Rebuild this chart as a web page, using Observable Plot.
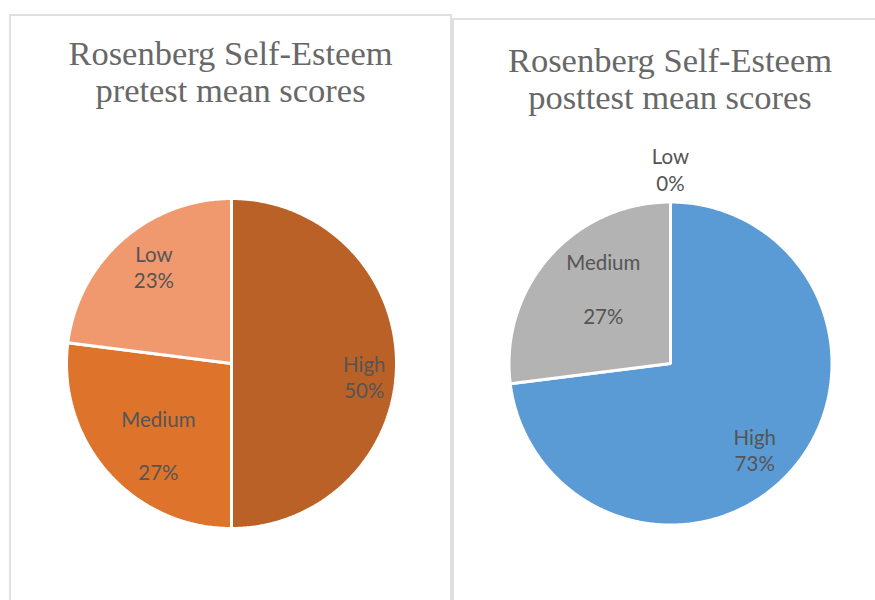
<!DOCTYPE html>
<html><head><meta charset="utf-8">
<script src="https://cdn.jsdelivr.net/npm/d3@7"></script>
<script src="https://cdn.jsdelivr.net/npm/@observablehq/plot@0.6"></script>
<style>
body{margin:0;background:#fff;width:875px;height:600px;overflow:hidden;position:relative;font-family:Lato,sans-serif}
.panel{position:absolute;border:2px solid #e0e0e0;box-sizing:border-box;background:#fff}
.title{position:absolute;left:0;right:0;text-align:center;font-family:"Liberation Serif",serif;font-size:34.5px;line-height:37px;color:#686868;white-space:nowrap}
.pie{position:absolute}
.pie svg{max-width:none;background:transparent}
</style></head><body>
<script>
// ---- data ----
const categories = ["High", "Medium", "Low"];
const pretestValues = [50, 27, 23];
const posttestValues = [73, 27, 0];
const pretestTitle = ["Rosenberg Self-Esteem", "pretest mean scores"];
const posttestTitle = ["Rosenberg Self-Esteem", "posttest mean scores"];
const pretestLabels = ["High\n50%", "Medium\n\n27%", "Low\n23%"];
const posttestLabels = ["High\n73%", "Medium\n\n27%", "Low\n0%"];

// ---- styles / layout ----
const pretestColors = ["#BA6128", "#DE742C", "#F0996E"];
const posttestColors = ["#5B9BD5", "#B3B3B3", "#A5A5A5"];

const charts = [
  {title: pretestTitle, values: pretestValues, labels: pretestLabels, colors: pretestColors,
   panel: {left: 9, top: 14, width: 443, height: 620}, titleTop: 19,
   cx: 230.5, cy: 362.5, r: 165,
   nudge: {High: [14, 13], Medium: [16, 3], Low: [1, -8]}},
  {title: posttestTitle, values: posttestValues, labels: posttestLabels, colors: posttestColors,
   panel: {left: 452, top: 18, width: 436, height: 620}, titleTop: 22,
   cx: 669.5, cy: 363, r: 161.5,
   nudge: {High: [-3, 9], Medium: [20, 2], Low: [0, -1]}}
];

const SVG_W = 400, SVG_H = 440;

for (const c of charts) {
  const panel = document.createElement("div");
  panel.className = "panel";
  Object.assign(panel.style, {left: c.panel.left + "px", top: c.panel.top + "px", width: c.panel.width + "px", height: c.panel.height + "px"});
  const t = document.createElement("div");
  t.className = "title";
  t.style.top = c.titleTop + "px";
  t.innerHTML = c.title.join("<br>");
  panel.appendChild(t);
  document.body.appendChild(panel);

  const table = categories.map((cat, i) => ({cat, value: c.values[i], color: c.colors[i], label: c.labels[i]}));
  const arcs = d3.pie().sort(null).value(d => d.value)(table);

  // slice outlines in unit-circle coordinates (angle clockwise from 12 o'clock)
  const rows = [];
  for (const a of arcs) {
    if (a.data.value <= 0) continue;
    rows.push({cat: a.data.cat, color: a.data.color, x: 0, y: 0});
    const n = Math.max(2, Math.ceil((a.endAngle - a.startAngle) / 0.01));
    for (let k = 0; k <= n; k++) {
      const ang = a.startAngle + (a.endAngle - a.startAngle) * k / n;
      rows.push({cat: a.data.cat, color: a.data.color, x: Math.sin(ang), y: Math.cos(ang)});
    }
  }

  const labelMarks = arcs.map(a => {
    const mid = (a.startAngle + a.endAngle) / 2;
    const rf = a.data.value === 0 ? 1.2 : 0.72;
    const [dx, dy] = c.nudge[a.data.cat];
    return Plot.text([{x: rf * Math.sin(mid), y: rf * Math.cos(mid), label: a.data.label}], {
      x: "x", y: "y", text: "label", dx, dy,
      fontSize: 20.5, fontFamily: "Lato", fill: "#555555", lineHeight: 1.3, textAnchor: "middle"
    });
  });

  const kx = SVG_W / 2 / c.r, ky = SVG_H / 2 / c.r;
  const svg = Plot.plot({
    width: SVG_W, height: SVG_H,
    margin: 0,
    x: {domain: [-kx, kx], axis: null},
    y: {domain: [-ky, ky], axis: null},
    color: {type: "identity"},
    marks: [
      Plot.line(rows, {x: "x", y: "y", z: "cat", fill: "color", stroke: "white", strokeWidth: 3, strokeLinejoin: "miter", curve: "linear-closed"}),
      ...labelMarks
    ]
  });
  const holder = document.createElement("div");
  holder.className = "pie";
  holder.style.left = (c.cx - SVG_W / 2) + "px";
  holder.style.top = (c.cy - SVG_H / 2) + "px";
  holder.appendChild(svg);
  document.body.appendChild(holder);
}
</script>
</body></html>
